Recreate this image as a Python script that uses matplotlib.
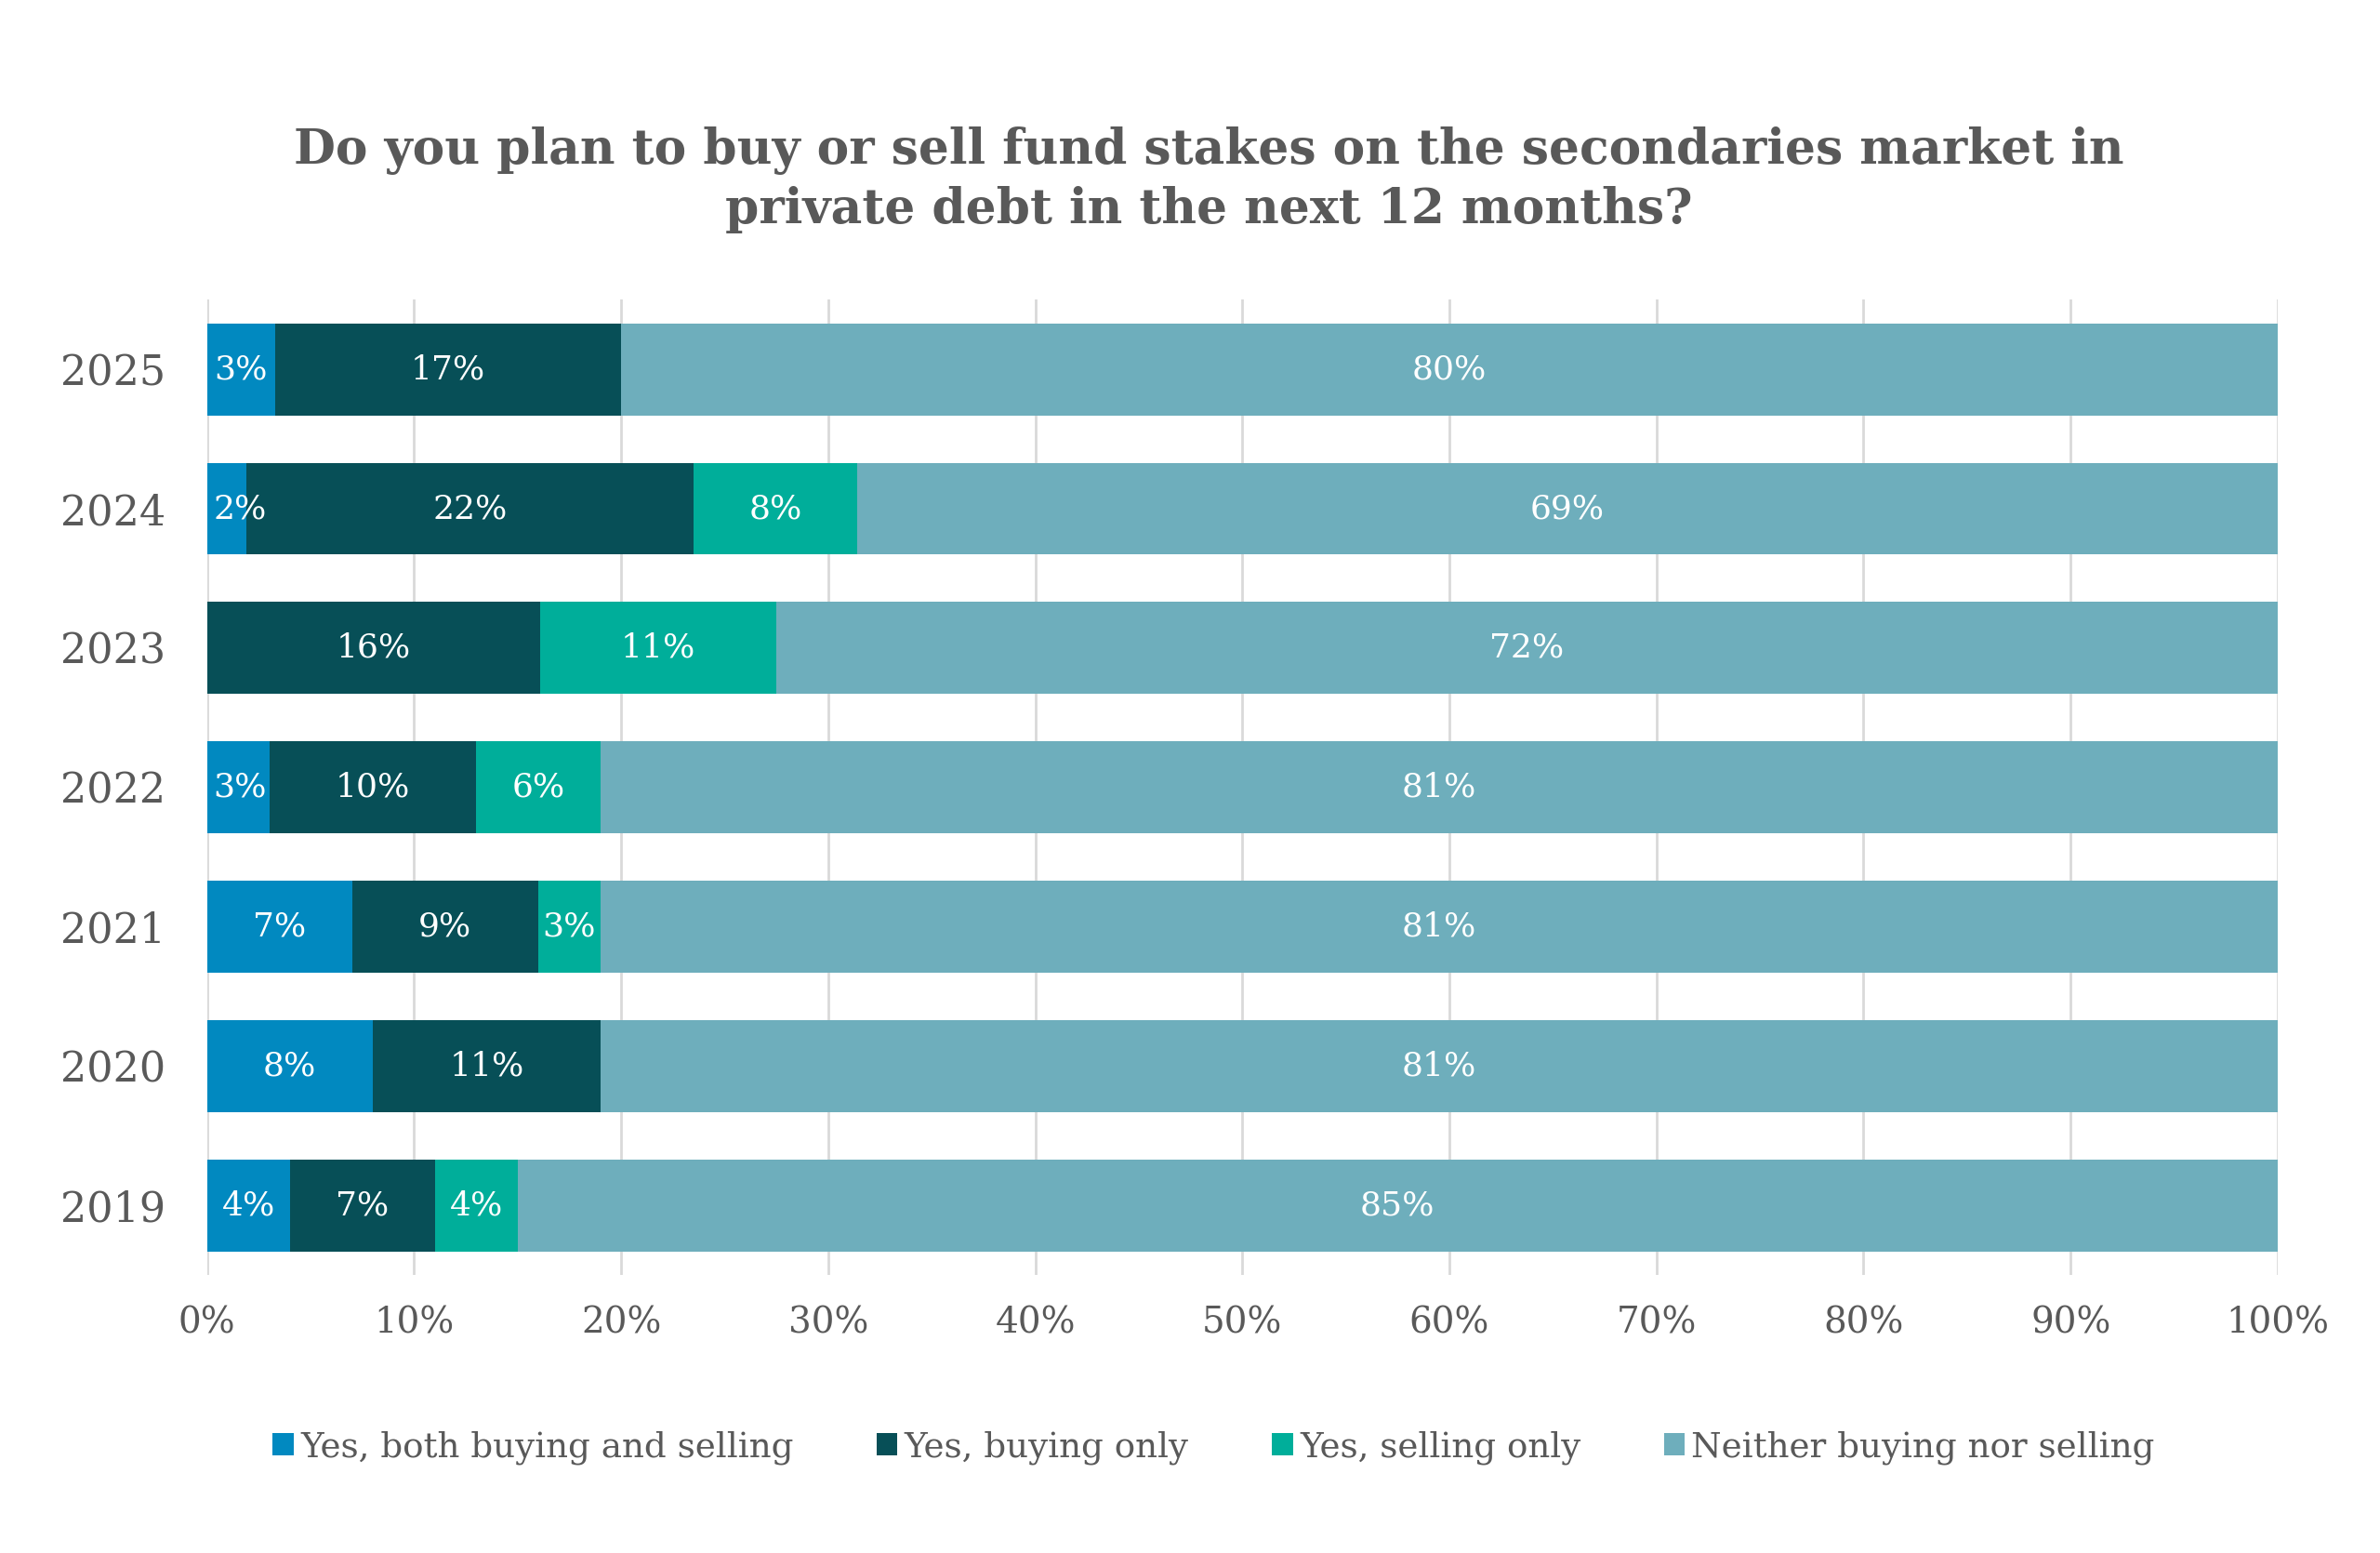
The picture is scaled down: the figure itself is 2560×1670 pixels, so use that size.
import matplotlib.pyplot as plt
import numpy as np
from matplotlib.patches import Patch

plt.rcParams['font.family'] = ['DejaVu Serif']

years = ['2025', '2024', '2023', '2022', '2021', '2020', '2019']
both = [3.3, 1.9, 0.0, 3.0, 7.0, 8.0, 4.0]
buying = [16.7, 21.6, 16.1, 10.0, 9.0, 11.0, 7.0]
selling = [0.0, 7.9, 11.4, 6.0, 3.0, 0.0, 4.0]
neither = [80.0, 68.6, 72.5, 81.0, 81.0, 81.0, 85.0]

series_names = ['Yes, both buying and selling', 'Yes, buying only',
                'Yes, selling only', 'Neither buying nor selling']
series = [both, buying, selling, neither]
colors = ['#0189C0', '#074F57', '#00AE9A', '#6EAEBC']
text_color = '#595959'

fig = plt.figure(figsize=(12.8, 8.35), dpi=200)
ax = fig.add_axes([0.087, 0.179, 0.87, 0.628])

y = np.arange(len(years))
left = np.zeros(len(years))
for name, vals, col in zip(series_names, series, colors):
    vals = np.array(vals)
    bars = ax.barh(y, vals, left=left, height=0.66, color=col,
                   edgecolor='none', zorder=3)
    for b, v in zip(bars, vals):
        if v > 0:
            # keep small labels inside the plot area, like Excel does
            xc = max(b.get_x() + b.get_width() / 2, 1.6)
            ax.text(xc, b.get_y() + b.get_height() / 2,
                    f'{round(v):d}%', ha='center', va='center',
                    color='white', fontsize=13, zorder=4)
    left = left + vals

ax.set_xlim(0, 100)
ax.set_ylim(len(years) - 0.5, -0.5)
ax.set_yticks(y, years)
ax.set_xticks(np.arange(0, 101, 10), [f'{t}%' for t in range(0, 101, 10)])
ax.grid(axis='x', color='#D9D9D9', linewidth=1.0, zorder=0)
ax.set_axisbelow(True)
for s in ax.spines.values():
    s.set_visible(False)
ax.tick_params(axis='y', length=0, pad=16, labelsize=16, labelcolor=text_color)
ax.tick_params(axis='x', length=0, pad=12, labelsize=14, labelcolor=text_color)

fig.text(0.508, 0.884,
         'Do you plan to buy or sell fund stakes on the secondaries market in\n'
         'private debt in the next 12 months?',
         ha='center', va='center', fontsize=18.7, fontweight='bold',
         color=text_color, linespacing=1.3)

handles = [Patch(facecolor=c, edgecolor='none') for c in colors]
fig.legend(handles, series_names, loc='center', bbox_to_anchor=(0.51, 0.068),
           ncol=4, frameon=False, fontsize=13.4, labelcolor=text_color,
           handlelength=0.6, handleheight=0.6, handletextpad=0.2,
           columnspacing=2.4)

plt.savefig('out.png', dpi=200)
